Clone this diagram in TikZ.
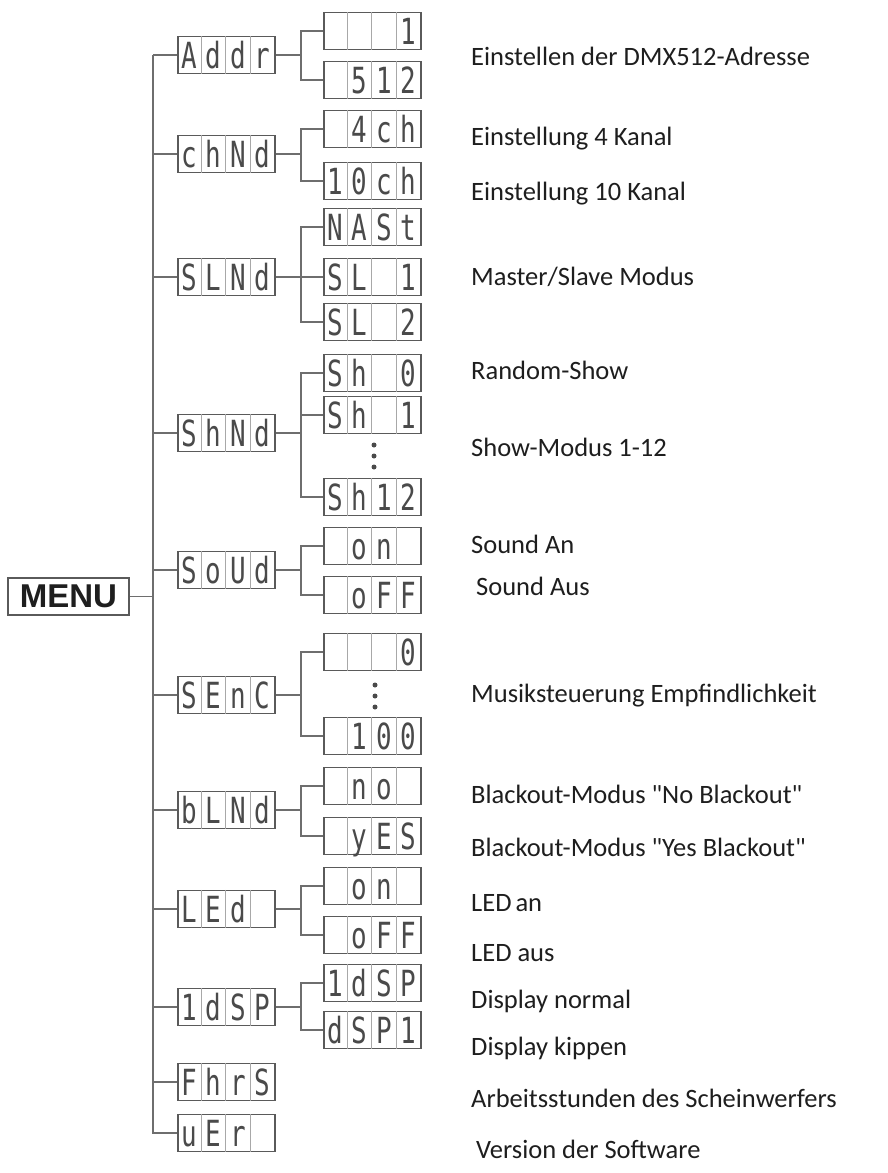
\documentclass[tikz,border=0pt]{standalone}
\usepackage{fontspec}
\setmainfont{Carlito}[Ligatures=TeXOff]
\newfontfamily\segfont{DejaVu Sans Mono}
\newfontfamily\menufont{Liberation Sans}
\usetikzlibrary{calc}
\definecolor{lnc}{HTML}{6E6E6E}
\definecolor{boxc}{HTML}{5A5A5A}
\definecolor{cellc}{HTML}{A8A8A8}
\definecolor{segc}{HTML}{4A4A4A}
\definecolor{txtc}{HTML}{1E1E1E}
\tikzset{
  conn/.style={draw=lnc, line width=1.8pt},
  dbox/.style={draw=boxc, line width=1.5pt, minimum width=97pt, minimum height=37pt, inner sep=0pt},
  cellline/.style={draw=cellc, line width=0.9pt},
  seg/.style={font=\segfont\fontsize{36}{36}\selectfont, text=segc, inner sep=0pt, anchor=base},
  lbl/.style={font=\fontsize{26.5}{30}\selectfont, text=txtc, anchor=base west, inner sep=0pt},
  dotc/.style={fill=segc, circle, inner sep=0pt, minimum size=5pt},
  menubox/.style={draw=boxc, line width=1.5pt, minimum width=121pt, minimum height=37pt, inner sep=0pt,
    font=\menufont\bfseries\fontsize{33}{33}\selectfont, text=txtc}
}
\newcommand\segchar[1]{\scalebox{0.72}[1]{#1}}
\newcommand\dispbox[7]{%
  \node[dbox] (#1) at (#2,#3) {};
  \foreach \k in {1,2,3} {\draw[cellline] ($(#1.north west)+(\k*24.25,0)$) -- ($(#1.south west)+(\k*24.25,0)$);}
  \node[seg] (#1-a) at ($(#1.west)+(12.1,13)$) {\segchar{#4}};
  \node[seg] (#1-b) at ($(#1.west)+(36.4,13)$) {\segchar{#5}};
  \node[seg] (#1-c) at ($(#1.west)+(60.6,13)$) {\segchar{#6}};
  \node[seg] (#1-d) at ($(#1.west)+(84.9,13)$) {\segchar{#7}};
}
\begin{document}
\begin{tikzpicture}[x=1pt,y=-1pt]
\useasboundingbox[fill=white] (0,0) rectangle (887,1173);
\coordinate (trunk) at (153,0);
\coordinate (subv) at (301,0);
\def\mx{226.5}
\def\sx{372.5}
% MENU
\node[menubox] (menu) at (68.5,596.5) {MENU};
% main items
\dispbox{addr}{\mx}{55}{A}{d}{d}{r}
\dispbox{chnd}{\mx}{154}{c}{h}{N}{d}
\dispbox{slnd}{\mx}{277}{S}{L}{N}{d}
\dispbox{shnd}{\mx}{433}{S}{h}{N}{d}
\dispbox{soud}{\mx}{570}{S}{o}{U}{d}
\dispbox{senc}{\mx}{695}{S}{E}{n}{C}
\dispbox{blnd}{\mx}{810}{b}{L}{N}{d}
\dispbox{led}{\mx}{909}{L}{E}{d}{}
\dispbox{idsp}{\mx}{1007}{1}{d}{S}{P}
\dispbox{fhrs}{\mx}{1082}{F}{h}{r}{S}
\dispbox{uer}{\mx}{1133}{u}{E}{r}{}
% sub items
\dispbox{addrA}{\sx}{31}{}{}{}{1}
\dispbox{addrB}{\sx}{80}{}{5}{1}{2}
\dispbox{chndA}{\sx}{129}{}{4}{c}{h}
\dispbox{chndB}{\sx}{181}{1}{0}{c}{h}
\dispbox{slndA}{\sx}{227}{N}{A}{S}{t}
\dispbox{slndB}{\sx}{277}{S}{L}{}{1}
\dispbox{slndC}{\sx}{322}{S}{L}{}{2}
\dispbox{shndA}{\sx}{373}{S}{h}{}{0}
\dispbox{shndB}{\sx}{415}{S}{h}{}{1}
\dispbox{shndC}{\sx}{497}{S}{h}{1}{2}
\dispbox{soudA}{\sx}{546}{}{o}{n}{}
\dispbox{soudB}{\sx}{595}{}{o}{F}{F}
\dispbox{sencA}{\sx}{652}{}{}{}{0}
\dispbox{sencB}{\sx}{736}{}{1}{0}{0}
\dispbox{blndA}{\sx}{786}{}{n}{o}{}
\dispbox{blndB}{\sx}{836}{}{y}{E}{S}
\dispbox{ledA}{\sx}{886}{}{o}{n}{}
\dispbox{ledB}{\sx}{935}{}{o}{F}{F}
\dispbox{idspA}{\sx}{983}{1}{d}{S}{P}
\dispbox{idspB}{\sx}{1030}{d}{S}{P}{1}
% dots
\node[dotc] (d1) at (374,445) {};
\node[dotc] (d2) at (374,456) {};
\node[dotc] (d3) at (374,467) {};
\node[dotc] (e1) at (375,685) {};
\node[dotc] (e2) at (375,696) {};
\node[dotc] (e3) at (375,707) {};
% trunk connectors
\draw[conn] (menu.east) -- (menu.east -| trunk);
\draw[conn] (addr.west -| trunk) -- (uer.west -| trunk) -- (uer.west);
\foreach \n in {addr,chnd,slnd,shnd,soud,senc,blnd,led,idsp,fhrs}
  {\draw[conn] (\n.west -| trunk) -- (\n.west);}
% sub connectors
\foreach \n in {addr,chnd,soud,senc,blnd,led,idsp}{
  \draw[conn] (\n.east) -- (\n.east -| subv);
  \draw[conn] (\n A.west) -- (\n A.west -| subv) -- (\n B.west -| subv) -- (\n B.west);
}
\foreach \n in {slnd,shnd}{
  \draw[conn] (\n.east) -- (\n.east -| subv);
  \draw[conn] (\n A.west) -- (\n A.west -| subv) -- (\n C.west -| subv) -- (\n C.west);
  \draw[conn] (\n B.west -| subv) -- (\n B.west);
}
% labels
\node[lbl] (t1) at (471,65) {Einstellen der DMX512-Adresse};
\node[lbl] (t2) at (471,145) {Einstellung 4 Kanal};
\node[lbl] (t3) at (471,200) {Einstellung 10 Kanal};
\node[lbl] (t4) at (471,285) {Master/Slave Modus};
\node[lbl] (t5) at (471,379) {Random-Show};
\node[lbl] (t6) at (471,456) {Show-Modus 1-12};
\node[lbl] (t7) at (471,553) {Sound An};
\node[lbl] (t8) at (476,595) {Sound Aus};
\node[lbl] (t9) at (471,702) {Musiksteuerung Empfindlichkeit};
\node[lbl] (t10) at (471,803) {Blackout-Modus "No Blackout"};
\node[lbl] (t11) at (471,856) {Blackout-Modus "Yes Blackout"};
\node[lbl] (t12) at (471,911) {LED\kern-2pt{} an};
\node[lbl] (t13) at (471,961) {LED aus};
\node[lbl] (t14) at (471,1008) {Display normal};
\node[lbl] (t15) at (471,1055) {Display kippen};
\node[lbl] (t16) at (471,1107) {Arbeitsstunden des Scheinwerfers};
\node[lbl] (t17) at (476,1158) {Version der Software};
\end{tikzpicture}
\end{document}
